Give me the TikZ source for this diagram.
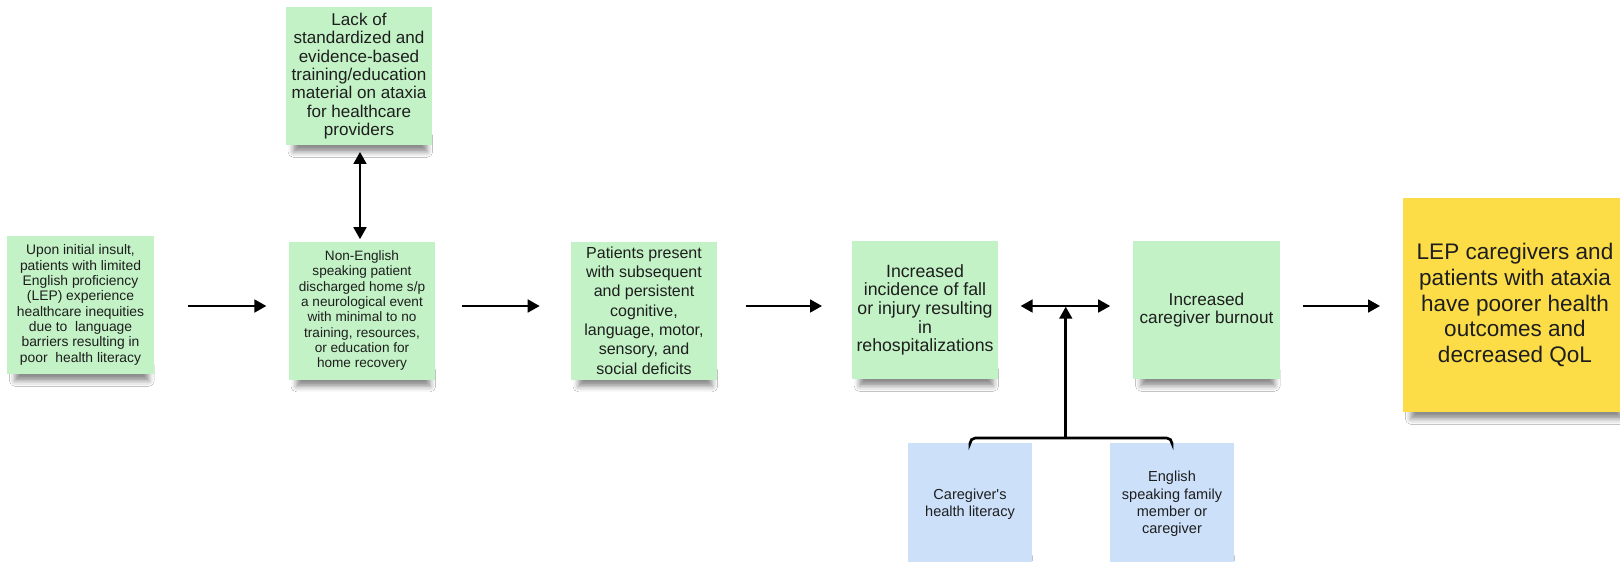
\documentclass[tikz,border=0pt]{standalone}
\usepackage{fontspec}
\setmainfont{Liberation Sans}
\usetikzlibrary{arrows.meta,shadows.blur,calc,backgrounds}
\definecolor{gfill}{HTML}{C3F2C6}
\definecolor{bfill}{HTML}{CCE0FA}
\definecolor{yfill}{HTML}{FCDD48}
\definecolor{ink}{HTML}{1E1E1E}
\begin{document}
\begin{tikzpicture}[x=0.75pt,y=-0.75pt,
  card/.style={fill=gfill, minimum width=110pt, minimum height=103.5pt, inner sep=0pt, align=center, text=ink},
  bcard/.style={card, fill=bfill, minimum width=93pt, minimum height=91.5pt},
  ycard/.style={card, fill=yfill, minimum width=168pt, minimum height=160.5pt},
  shadowstrip/.style={blur shadow={shadow xshift=1pt, shadow yshift=-5pt, shadow blur radius=4pt, shadow opacity=45}},
  arr/.style={line width=2pt, -{Triangle[length=9pt,width=9.5pt]}},
  dbl/.style={line width=2pt, {Triangle[length=9pt,width=9.5pt]}-{Triangle[length=9pt,width=9.5pt]}}
]
\clip (0,0) rectangle (1620,561);

\node[card, font=\fontsize{10.4}{11.5}\selectfont] (b1) at (80.5,305)
  {Upon initial insult,\\patients with limited\\English proficiency\\(LEP) experience\\healthcare inequities\\due to\ \ language\\barriers resulting in\\poor\ \ health literacy};
\node[card, font=\fontsize{12.8}{13.8}\selectfont] (lack) at (359,76)
  {Lack of\\standardized and\\evidence-based\\training/education\\material on ataxia\\for healthcare\\providers};
\node[card, font=\fontsize{10.2}{11.5}\selectfont] (b2) at (362,310.5)
  {Non-English\\speaking patient\\discharged home s/p\\a neurological event\\with minimal to no\\training, resources,\\or education for\\home recovery};
\node[card, font=\fontsize{12}{14.5}\selectfont] (b3) at (644,310.5)
  {Patients present\\with subsequent\\and persistent\\cognitive,\\language, motor,\\sensory, and\\social deficits};
\node[card, font=\fontsize{13.3}{14}\selectfont] (b4) at (925,310)
  {Increased\\incidence of fall\\or injury resulting\\in\\rehospitalizations};
\node[card, font=\fontsize{12.9}{14}\selectfont] (b5) at (1206.5,310)
  {Increased\\caregiver burnout};
\node[bcard, font=\fontsize{10.9}{13}\selectfont] (b6) at (970,504)
  {Caregiver\textquotesingle s\\health literacy};
\node[bcard, font=\fontsize{10.9}{13}\selectfont] (b7) at (1172,504)
  {English\\speaking family\\member or\\caregiver};
\node[ycard, font=\fontsize{16.9}{19.3}\selectfont] (y) at (1515,305)
  {LEP caregivers and\\patients with ataxia\\have poorer health\\outcomes and\\decreased QoL};

\begin{scope}[on background layer]
  \fill[white] (0,0) rectangle (1620,561);
  \foreach \n in {b1,lack,b2,b3,b4,b5,b6,b7,y}
    \path[shadowstrip] ([xshift=5pt]\n.south west) rectangle ([xshift=-5pt,yshift=12pt]\n.south east);
\end{scope}

\coordinate (r) at (0,306);
\coordinate (mid) at ($(b4.east)!0.5!(b5.west)$);
\coordinate (br) at (mid |- 0,438);
\coordinate (vx) at (360,0);

\draw[arr, shorten <=25.5pt, shorten >=16.5pt] (b1.east |- r) -- (b2.west |- r);
\draw[arr, shorten <=20pt, shorten >=23pt] (b2.east |- r) -- (b3.west |- r);
\draw[arr, shorten <=21pt, shorten >=22pt] (b3.east |- r) -- (b4.west |- r);
\draw[dbl, shorten <=16.5pt, shorten >=17pt] (b4.east |- r) -- (b5.west |- r);
\draw[arr, shorten <=17pt, shorten >=17pt] (b5.east |- r) -- (y.west |- r);
\draw[dbl, shorten <=5pt, shorten >=1.5pt] (vx |- lack.south) -- (vx |- b2.north);
\draw[line width=2pt, rounded corners=4pt] (b6.north) |- (br) -| (b7.north);
\draw[arr, shorten >=0.5pt] (br) -- (mid |- r);
\end{tikzpicture}
\end{document}
